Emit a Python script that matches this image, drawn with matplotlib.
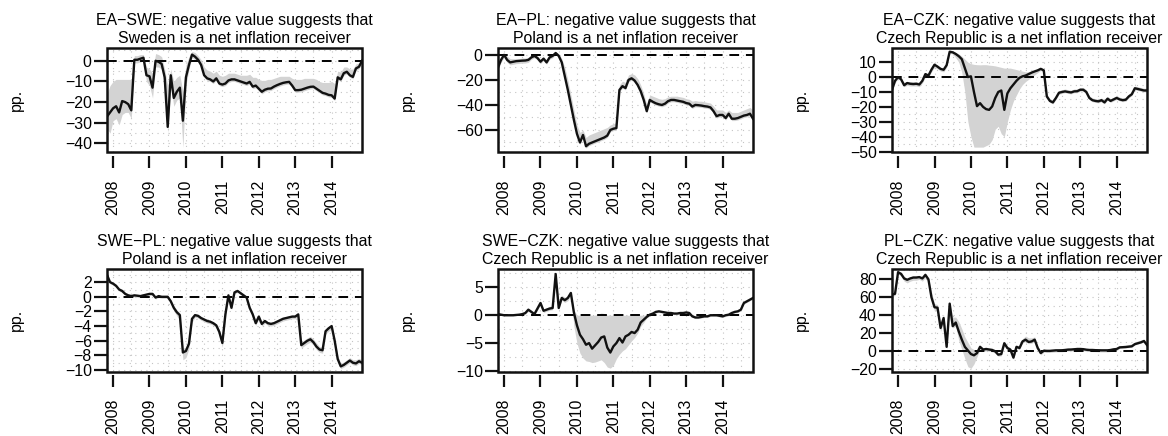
import matplotlib
matplotlib.use("Agg")
import numpy as np
import pandas as pd
import matplotlib.pyplot as plt
from matplotlib.patches import Rectangle

plt.rcParams["font.family"] = ["Liberation Sans", "DejaVu Sans"]

# monthly observations, Nov 2007 .. Nov 2014
months = pd.date_range("2007-11-01", periods=85, freq="MS")
x = months.year + (months.month - 1) / 12.0

YEARS = [2008, 2009, 2010, 2011, 2012, 2013, 2014]

TITLES = [
    "EA\u2212SWE: negative value suggests that\nSweden is a net inflation receiver",
    "EA\u2212PL: negative value suggests that\nPoland is a net inflation receiver",
    "EA\u2212CZK: negative value suggests that\nCzech Republic is a net inflation receiver",
    "SWE\u2212PL: negative value suggests that\nPoland is a net inflation receiver",
    "SWE\u2212CZK: negative value suggests that\nCzech Republic is a net inflation receiver",
    "PL\u2212CZK: negative value suggests that\nCzech Republic is a net inflation receiver",
]

YTICKS = [
    [0, -10, -20, -30, -40],
    [0, -20, -40, -60],
    [10, 0, -10, -20, -30, -40, -50],
    [2, 0, -2, -4, -6, -8, -10],
    [5, 0, -5, -10],
    [80, 60, 40, 20, 0, -20],
]
YLIMS = [(-44.4, 6.2), (-78, 5.5), (-50.6, 19.5), (-10.2, 3.8), (-10.1, 8.3), (-22.4, 91.5)]

# ---- EA-SWE ----
ea_swe = [-27, -25, -23, -22, -25, -19.5, -20, -21, -24, 0.5,
          0.5, 1, 1.5, -7, -7.5, -13, 0, -0.5, -1.5, -8,
          -32, -7, -18, -15, -13, -29, -8, -2, 3, 2,
          0.5, -2, -7, -8.5, -9, -10, -8.5, -11, -11.5, -11,
          -9.5, -9, -9, -9.5, -10, -10.5, -11, -10.2, -12.5, -12,
          -13.5, -15, -14, -13.5, -13.4, -12.5, -11.8, -11.2, -10.7, -10.4,
          -10.2, -12, -14.2, -14.2, -14, -13.5, -13, -12.6, -12.5, -13.5,
          -14.5, -15.5, -15.9, -16.5, -16.7, -18.3, -8, -9, -6, -5.3,
          -7, -7.8, -3.7, -2.9, 0]
ea_swe_hi = [-16, -12, -10, -9, -9, -9, -9, -9, -9, 2.5,
             2.5, 3, 3, -3, -4, -6, 3.5, 3, 2, -4,
             -12, -4, -10, -8, -7, -15, -2, 2, 4.5, 4,
             2.5, 0.5, -3, -4.5, -5, -6, -5, -7, -7.5, -7,
             -6, -6, -6, -6.5, -7, -7, -7, -6.5, -8, -8,
             -9, -9.5, -9.5, -9, -9, -8.5, -8, -7.5, -7.5, -7.5,
             -7.5, -8.5, -9, -9, -9, -8.5, -8.5, -8.5, -8.5, -9,
             -10, -10.5, -10.5, -10.5, -10, -11, -5, -5.5, -3, -3,
             -4, -4, -1.5, -1, 1]
ea_swe_lo = [-33, -35, -29, -28, -31, -26, -25, -25, -28, -1,
             -1, -0.5, 0, -10, -12, -18, -3, -3, -4, -12,
             -35, -12, -22, -19, -18, -42, -12, -4, 1.5, 0.5,
             -0.5, -3, -8, -9.5, -10, -11, -9.5, -12, -12.5, -12,
             -10.5, -10, -10, -10.5, -11, -11.5, -12, -11.2, -13.5, -13,
             -14.5, -16, -15, -14.5, -14.4, -13.5, -12.8, -12.2, -11.7, -11.4,
             -11.2, -13, -15.2, -15.2, -15, -14.5, -14, -13.6, -13.5, -14.5,
             -15.5, -16.5, -16.9, -17.5, -17.7, -19.3, -9, -10, -7, -6.3,
             -8, -8.8, -4.7, -3.9, -1]

# ---- EA-PL ----
ea_pl = [-10, -4, 0, -4, -6, -5.5, -5, -4.8, -4.6, -4.5,
         -4, -2, -0.8, -2.5, -5.5, -3, -6, -2, -0.8, 1.5,
         -0.8, -6, -17, -28, -40, -52, -63, -70, -64, -73,
         -71, -70, -69, -68, -67, -66, -64.5, -60, -59, -58.5,
         -28, -25, -26.5, -20, -18.7, -20.5, -24, -29, -36, -45,
         -36, -37.5, -38.7, -39.5, -40, -39, -37, -36, -36, -36.5,
         -37, -37.5, -38.5, -39, -41.3, -40, -40.2, -40.5, -41, -41.3,
         -42, -45, -49, -48, -48, -50.5, -47, -51, -51, -50.5,
         -49.5, -48.5, -48, -47, -51]
ea_pl_hi = [-6, -1, 1, -1, -3, -3, -3, -3, -2.5, -2.5,
            -2, 0, 0.5, -1, -3.5, -1.5, -4, -0.5, 0.5, 2.5,
            1, -3, -10, -20, -32, -44, -56, -62, -60, -66,
            -64, -63, -62, -61, -60, -59, -58, -56, -55, -54,
            -24, -21, -22, -16, -15, -16, -19, -24, -31, -40,
            -32, -33, -34, -35, -35.5, -35, -33.5, -33, -33, -33,
            -33.5, -34, -35, -35.5, -37, -36.5, -37, -37, -37.5, -38,
            -38.5, -41, -44, -44, -44, -46, -44, -46, -46, -46,
            -45, -44, -43, -42, -44]
ea_pl_lo = [-12, -6, -2, -6, -8, -7.5, -7, -6.8, -6.6, -6.5,
            -6, -3.5, -2.3, -4, -7, -4.5, -7.5, -3.5, -2.3, 0,
            -2.3, -7.5, -18.5, -29.5, -41.5, -53.5, -64.5, -71.5, -65.5, -74.5,
            -72.5, -71.5, -70.5, -69.5, -68.5, -67.5, -66, -61.5, -60.5, -60,
            -29.5, -26.5, -28, -21.5, -20.2, -22, -25.5, -30.5, -37.5, -46.5,
            -37.5, -39, -40.2, -41, -41.5, -40.5, -38.5, -37.5, -37.5, -38,
            -38.5, -39, -40, -40.5, -42.8, -41.5, -41.7, -42, -42.5, -42.8,
            -43.5, -46.5, -50.5, -49.5, -49.5, -52, -48.5, -52.5, -52.5, -52,
            -51, -50, -49.5, -48.5, -52.5]

# ---- EA-CZK ----
ea_czk = [-8.5, -2.5, 0, -1.5, -5.5, -4, -4.5, -4.7, -4.5, -5,
          -2.5, 2, 1, 5, 8.3, 7, 5.5, 4.9, 8, 17,
          16.6, 15.5, 14, 12, 6, 0, 0.5, -10, -19.5, -17.5,
          -20, -21.5, -22, -19.7, -14, -10, -9, -22, -11, -7.5,
          -5, -2.5, -0.5, 0.5, 1, 2, 3, 3.8, 4.5, 5.5,
          4.5, -13, -16, -17, -14, -10.5, -10, -9.6, -10, -10.3,
          -9.6, -9.5, -8.5, -8.5, -10, -14, -15.5, -16, -16.3, -15.5,
          -17, -14.5, -16, -15, -14, -15, -15.5, -15.2, -13, -11.5,
          -7.5, -8, -8.5, -9, -9]
ea_czk_hi = [-7, -1, 1, -0.5, -3.5, -3, -3, -3, -3, -3.5,
             -1, 3, 2, 6, 9, 8, 6.5, 6, 9, 18,
             17.5, 16.5, 15.5, 14, 12, 10, 9, 8.5, 8.3, 8.2,
             8.3, 8.3, 8, 7.8, 7.5, 7, 6.5, 6, 6, 6,
             5.5, 5, 4.5, 4, 3.5, 3.5, 3.5, 4.5, 5.5, 6.5,
             5.5, -11.5, -14.5, -15.5, -12.5, -9, -8.5, -8, -8.5, -8.8,
             -8, -8, -7, -7, -8.5, -12.5, -14, -14.5, -14.8, -14,
             -15.5, -13, -14.5, -13.5, -12.5, -13.5, -14, -13.7, -11.5, -10,
             -6, -6.5, -7, -7.5, -7.5]
ea_czk_lo = [-10, -4, -1, -3, -6.5, -5.5, -6, -6, -6, -6.5,
             -4, 0, -0.5, 3.5, 6.5, 5.5, 4, 3.5, 6.5, 16,
             15.5, 13, 10, 3, -10, -30, -40, -47, -47, -47,
             -47, -46, -45, -42, -35, -33, -38, -40, -30, -22,
             -16, -12, -8, -5, -3, -1.5, 0, 1.5, 3, 4.5,
             3, -14, -17, -18, -15, -11.5, -11, -10.5, -11, -11.3,
             -10.5, -10.5, -9.5, -9.5, -11, -15, -16.5, -17, -17.3, -16.5,
             -18, -15.5, -17, -16, -15, -16, -16.5, -16.2, -14, -12.5,
             -8.5, -9, -9.5, -10, -10]

# ---- SWE-PL ----
swe_pl = [3, 2, 1.8, 1.5, 1, 0.8, 0.4, 0.2, 0.1, 0.2,
          0.15, 0.1, 0.2, 0.3, 0.4, 0.4, -0.1, 0.1, 0, 0,
          0, -0.6, -1.5, -2.1, -2.5, -7.6, -7.4, -6.4, -3, -2.5,
          -2.6, -2.9, -3.1, -3.3, -3.4, -3.6, -3.9, -4.8, -6.3, -2.4,
          0.2, -1.5, 0.6, 0.8, 0.5, 0.2, -0.1, -1.5, -2.4, -3.6,
          -2.7, -3.7, -3.3, -3.6, -3.7, -3.6, -3.4, -3.2, -3, -2.9,
          -2.8, -2.7, -2.7, -2.4, -6.6, -6.3, -6, -5.8, -6.2, -6.8,
          -7.2, -7.3, -4.7, -4.3, -4, -6, -8.5, -9.5, -9.3, -9,
          -8.7, -9, -9.1, -8.8, -9]
swe_pl_hi = [3.2, 2.2, 2, 1.7, 1.2, 1, 0.6, 0.4, 0.3, 0.4,
             0.35, 0.3, 0.4, 0.5, 0.6, 0.6, 0.1, 0.3, 0.2, 0.2,
             0.2, -0.4, -1.2, -1.8, -2.2, -7, -6.9, -5.9, -2.7, -2.3,
             -2.4, -2.7, -2.9, -3.1, -3.2, -3.4, -3.7, -4.5, -5.9, -2.1,
             0.4, -1.2, 0.8, 1, 0.7, 0.4, 0.1, -1.2, -2.1, -3.3,
             -2.4, -3.4, -3.1, -3.4, -3.5, -3.4, -3.2, -3, -2.8, -2.7,
             -2.6, -2.5, -2.5, -2.2, -6.2, -5.9, -5.6, -5.4, -5.8, -6.3,
             -6.8, -6.9, -4.4, -4, -3.7, -5.6, -8, -9.1, -8.9, -8.6,
             -8.3, -8.6, -8.6, -8.4, -8.6]
swe_pl_lo = [2.8, 1.8, 1.6, 1.3, 0.8, 0.6, 0.2, 0, -0.1, 0,
             -0.05, -0.1, 0, 0.1, 0.2, 0.2, -0.3, -0.1, -0.2, -0.2,
             -0.2, -0.9, -1.9, -2.6, -3.2, -8.6, -8.3, -7.1, -3.5, -2.8,
             -2.9, -3.2, -3.4, -3.6, -3.7, -3.9, -4.2, -5.3, -6.9, -2.8,
             0, -1.8, 0.4, 0.6, 0.3, 0, -0.3, -1.8, -2.7, -3.9,
             -3, -4, -3.6, -3.9, -4, -3.9, -3.7, -3.5, -3.3, -3.2,
             -3.1, -3, -3, -2.7, -7, -6.7, -6.4, -6.2, -6.6, -7.2,
             -7.6, -7.7, -5.1, -4.7, -4.4, -6.4, -8.9, -9.8, -9.6, -9.3,
             -9, -9.3, -9.4, -9.1, -9.3]

# ---- SWE-CZK ----
swe_czk = [0.2, 0.1, 0, 0, 0, 0, 0.05, 0.1, 0.2, 0.4,
           1, 0.6, 0.2, 1.2, 2.2, 0.8, 1, 1.2, 1.3, 7.4,
           1.3, 3.1, 2.7, 3.1, 4, 0.5, -1.8, -3.5, -4.3, -5.3,
           -5, -6, -5.4, -4.8, -4, -3.8, -5.8, -6.7, -5.6, -5,
           -4.1, -4.9, -3.8, -3.5, -3, -3.2, -2.6, -1.3, -0.8, -0.3,
           0.1, 0.3, 0.6, 0.7, 0.6, 0.5, 0.4, 0.4, 0.3, 0.3,
           0.4, 0.4, 0.5, 0.4, -0.2, -0.4, -0.4, -0.3, -0.2, -0.2,
           0, 0, 0, -0.1, -0.2, 0, 0.1, 0.4, 0.6, 0.7,
           1, 2.2, 2.5, 2.8, 3.1]
swe_czk_hi = [0.3, 0.2, 0.1, 0.1, 0.1, 0.1, 0.15, 0.2, 0.3, 0.6,
              1.2, 0.9, 0.5, 1.5, 2.5, 1.1, 1.3, 1.6, 1.7, 7.6,
              2, 3.6, 3.2, 3.5, 4.3, 1, 0, 0, 0, 0,
              0, 0, 0, 0.2, 0.4, 0.3, 0, 0, 0, 0,
              0, 0, 0, 0, 0, 0, 0, 0, 0, 0.1,
              0.3, 0.5, 0.8, 0.9, 0.8, 0.7, 0.6, 0.6, 0.5, 0.5,
              0.6, 0.6, 0.7, 0.6, 0, -0.2, -0.2, -0.1, 0, 0,
              0.2, 0.2, 0.2, 0.1, 0, 0.2, 0.3, 0.6, 0.8, 0.9,
              1.2, 2.4, 2.7, 3, 3.3]
swe_czk_lo = [0.1, 0, -0.1, -0.1, -0.1, -0.1, -0.05, 0, 0.1, 0.2,
              0.7, 0.3, 0, 0.9, 1.9, 0.5, 0.7, 0.9, 1, 7,
              1, 2.7, 2.3, 2.6, 3.6, -2, -5, -6.8, -7.7, -8.2,
              -8.3, -8.5, -8.4, -8.2, -8, -8.5, -9.3, -9.5, -9, -7.8,
              -7, -6.4, -6, -5.3, -4.6, -4, -3.2, -2, -1.3, -0.5,
              -0.1, 0.1, 0.4, 0.5, 0.4, 0.3, 0.2, 0.2, 0.1, 0.1,
              0.2, 0.2, 0.3, 0.2, -0.4, -0.6, -0.6, -0.5, -0.4, -0.4,
              -0.2, -0.2, -0.2, -0.3, -0.4, -0.2, -0.1, 0.2, 0.4, 0.5,
              0.8, 2, 2.3, 2.6, 2.9]

# ---- PL-CZK ----
pl_czk = [63, 64, 88, 86, 81, 79.5, 81, 82, 82, 82.5,
          81, 85, 80, 60, 49, 48.5, 26, 37, 5, 53,
          28, 32, 22, 13, 5, 1, -3, -4.4, -2, 5,
          2, 2.6, 2, 1.5, 0, -3.7, -3, 9, 3.7, 1.9,
          -7, 5, 3.7, 11, 13, 10.4, 11, 13, 3.7, -1.9,
          0.7, 0.5, 0.5, 0.8, 1.1, 1.1, 1.2, 1.5, 1.9, 2,
          2.3, 2.6, 2.6, 2.4, 1.8, 1.5, 1.5, 1.3, 1.2, 1.1,
          1.1, 1.1, 1.5, 2.2, 2.6, 4.4, 4.6, 4.8, 5.2, 5.6,
          8, 9, 10, 11.5, 7]
pl_czk_hi = [65, 66, 89, 88, 83, 81, 83, 84, 84, 84,
             83, 86, 82, 66, 53, 52, 30, 41, 12, 55,
             38, 38, 33, 25, 16, 10, 4, 2, 2, 7,
             4, 4.5, 4, 3.5, 2, -1.5, -1, 11, 6, 4,
             -4, 7, 6, 14, 17, 15, 15, 16, 6, 0,
             2.5, 2.3, 2.3, 2.6, 2.9, 2.9, 3, 3.3, 3.7, 3.8,
             4.1, 4.4, 4.4, 4.2, 3.6, 3.3, 3.3, 3.1, 3, 2.9,
             2.9, 2.9, 3.3, 4, 4.4, 6.2, 6.6, 7, 7.6, 8.2,
             10.5, 11.5, 12.5, 13.5, 9]
pl_czk_lo = [61, 62, 86, 84, 78, 76, 78, 79, 79, 80,
             78, 82, 77, 56, 45, 45, 22, 33, 2, 50,
             26, 28, 12, 2, -8, -17, -19, -14, -6, 2,
             0, 0.5, 0, -0.5, -2, -5.5, -5, 7, 1.5, 0,
             -9, 3, 2, 9, 11, 8.5, 9, 11, 1.5, -4,
             -1, -1.2, -1.2, -0.9, -0.6, -0.6, -0.5, -0.2, 0.2, 0.3,
             0.6, 0.9, 0.9, 0.7, 0.1, -0.2, -0.2, -0.4, -0.5, -0.6,
             -0.6, -0.6, -0.2, 0.5, 0.9, 3.4, 3.6, 3.8, 4.2, 4.6,
             7, 8, 9, 10.5, 6]

SERIES = [ea_swe, ea_pl, ea_czk, swe_pl, swe_czk, pl_czk]
UPPER = [ea_swe_hi, ea_pl_hi, ea_czk_hi, swe_pl_hi, swe_czk_hi, pl_czk_hi]
LOWER = [ea_swe_lo, ea_pl_lo, ea_czk_lo, swe_pl_lo, swe_czk_lo, pl_czk_lo]

W, H = 1168, 436
fig = plt.figure(figsize=(W / 100, H / 100), dpi=100)

col_left = [107, 498, 892]
row_top = [48, 269]
row_bot = [152.5, 371.5]
box_w = 255
FS = 11.4

for i in range(6):
    r, c = divmod(i, 3)
    ax = fig.add_axes([col_left[c] / W, 1 - row_bot[r] / H,
                       box_w / W, (row_bot[r] - row_top[r]) / H])
    lo, hi = YLIMS[i]
    ax.set_xlim(x[0], x[-1])
    ax.set_ylim(lo, hi)

    # light dotted grid
    step = YTICKS[i][0] - YTICKS[i][1]
    for yv in np.arange(YTICKS[i][-1] - step, YTICKS[i][0] + step, step / 2):
        if lo < yv < hi:
            ax.axhline(yv, color="#c4c4c4", lw=0.8, ls=(0, (1, 4)), zorder=1)
    for xv in np.arange(2008, 2015, 0.5):
        if x[0] < xv < x[-1]:
            ax.axvline(xv, color="#c4c4c4", lw=0.8, ls=(0, (1, 4)), zorder=1)

    ax.fill_between(x, LOWER[i], UPPER[i], color="#d3d3d3", lw=0, zorder=2)
    ax.axhline(0, color="black", lw=1.4, ls=(0, (5, 3.5)), zorder=3)
    ax.plot(x, SERIES[i], color="#111111", lw=1.7, zorder=4)

    for s in ax.spines.values():
        s.set_visible(False)
    ax.spines["bottom"].set_position(("outward", 2.5))
    ax.add_patch(Rectangle((0, 0), 1, 1, transform=ax.transAxes, fill=False,
                           lw=1.8, ec="#111111", clip_on=False, zorder=6))

    ax.set_xticks(YEARS)
    ax.set_xticklabels([str(y) for y in YEARS])
    ax.set_yticks(YTICKS[i])
    ax.tick_params(axis="x", length=8.6, width=1.6, pad=8.2,
                   labelsize=FS, labelrotation=90, color="#111111")
    ax.tick_params(axis="y", length=9.5, width=1.6, pad=1.5,
                   labelsize=FS, color="#111111")

    ax.set_title(TITLES[i], fontsize=FS, pad=3.5, linespacing=1.28)
    ax.text(-91 / box_w, 0.5, "pp.", transform=ax.transAxes, rotation=90,
            ha="center", va="center", fontsize=FS)

fig.savefig("out.png", dpi=100)
